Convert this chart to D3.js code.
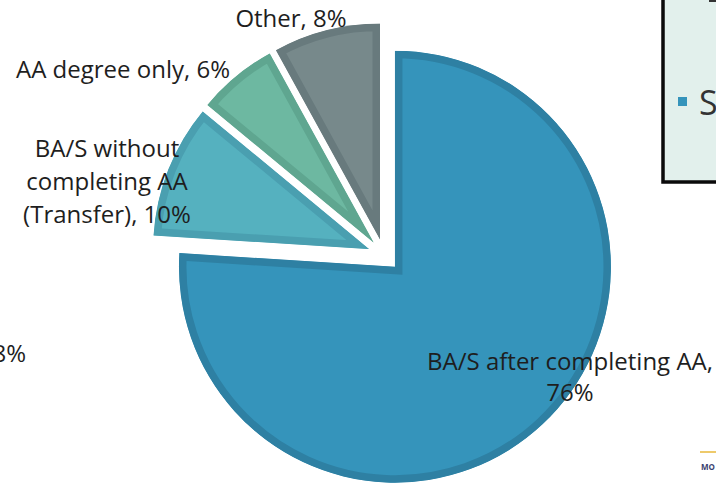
<!DOCTYPE html>
<html>
<head>
<meta charset="utf-8">
<script src="https://cdn.jsdelivr.net/npm/d3@7"></script>
<style>
  body { margin: 0; background: #fff; }
  svg { display: block; font-family: "Open Sans", sans-serif; }
</style>
</head>
<body>
<div id="chart"></div>
<script>
const categories = ["BA/S after completing AA", "BA/S without completing AA (Transfer)", "AA degree only", "Other"];
const values = [76, 10, 6, 8];
const fills = ["#3594bb", "#55b1bf", "#6db8a1", "#77898b"];
const borders = ["#2e80a3", "#4a9fb0", "#5fa690", "#687a7d"];

const width = 716, height = 485;
const cx = 384, cy = 255, radius = 216, explode = 16;

const svg = d3.select("#chart")
  .append("svg")
    .attr("width", width)
    .attr("height", height);

const pie = d3.pie().sort(null).value(d => d.value);
const arc = d3.arc().innerRadius(0).outerRadius(radius);

const data = pie(categories.map((c, i) => ({name: c, value: values[i], i: i})));

const defs = svg.append("defs");
const g = svg.append("g").attr("transform", "translate(" + cx + "," + cy + ")");

data.forEach((d, i) => {
  const mid = (d.startAngle + d.endAngle) / 2;
  const dx = explode * Math.sin(mid), dy = -explode * Math.cos(mid);
  defs.append("clipPath").attr("id", "clip" + i)
    .append("path").attr("d", arc(d));
  const s = g.append("g").attr("transform", "translate(" + dx + "," + dy + ")");
  s.append("path")
    .attr("d", arc(d))
    .attr("fill", fills[i])
    .attr("stroke", borders[i])
    .attr("stroke-width", 15)
    .attr("stroke-linejoin", "miter")
    .attr("clip-path", "url(#clip" + i + ")");
});

// labels
const labels = [
  {lines: ["BA/S after completing AA,", "76%"], x: 570, y: 370, dy: 31},
  {lines: ["BA/S without", "completing AA", "(Transfer), 10%"], x: 107, y: 157, dy: 33},
  {lines: ["AA degree only, 6%"], x: 123, y: 78, dy: 0},
  {lines: ["Other, 8%"], x: 291, y: 27, dy: 0}
];
labels.forEach(l => {
  const t = svg.append("text")
    .attr("text-anchor", "middle")
    .attr("font-size", 24)
    .attr("fill", "#1e1e1e");
  l.lines.forEach((line, k) => {
    t.append("tspan").attr("x", l.x).attr("y", l.y + k * l.dy).text(line);
  });
});

// partial label at left edge
svg.append("text")
  .attr("x", 26).attr("y", 362)
  .attr("text-anchor", "end")
  .attr("font-size", 24)
  .attr("fill", "#1e1e1e")
  .text("8%");

// legend box (cut off at right)
svg.append("rect")
  .attr("x", 663).attr("y", -10)
  .attr("width", 80).attr("height", 192)
  .attr("fill", "#e2f0ec")
  .attr("stroke", "#0a0a0a")
  .attr("stroke-width", 3.5);
svg.append("rect")
  .attr("x", 678).attr("y", 97)
  .attr("width", 9).attr("height", 9)
  .attr("fill", fills[0]);
svg.append("text")
  .attr("x", 699).attr("y", 115)
  .attr("font-size", 34)
  .attr("fill", "#333")
  .text("S");
svg.append("rect")
  .attr("x", 709).attr("y", 0)
  .attr("width", 8).attr("height", 2)
  .attr("fill", "#333");

// footer logo fragment
svg.append("line")
  .attr("x1", 700).attr("x2", 716)
  .attr("y1", 452).attr("y2", 452)
  .attr("stroke", "#e8b83a").attr("stroke-width", 1.5);
svg.append("text")
  .attr("x", 701).attr("y", 470)
  .attr("font-size", 8)
  .attr("font-weight", "bold")
  .attr("fill", "#3a3f70")
  .text("MO");
</script>
</body>
</html>
